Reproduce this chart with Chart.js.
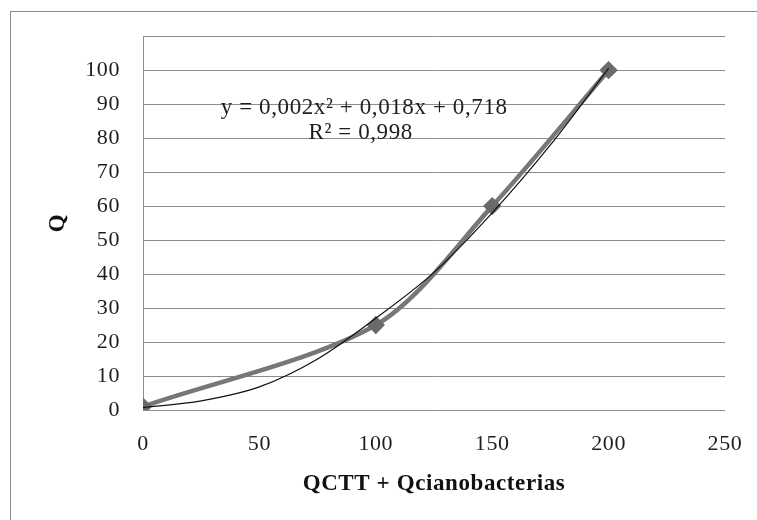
<!DOCTYPE html>
<html>
<head>
<meta charset="utf-8">
<script src="https://cdn.jsdelivr.net/npm/chart.js@4/dist/chart.umd.min.js"></script>
<style>
  html, body { margin: 0; padding: 0; background: #fff; }
  #wrap { width: 757px; height: 520px; }
</style>
</head>
<body>
<div id="wrap"><canvas id="qchart" width="757" height="520"></canvas></div>
<script>
// measured points
const xValues = [0, 100, 150, 200];
const qValues = [1, 25, 60, 100];

// polynomial trend line
const trendX = [0, 25, 50, 75, 100, 125, 150, 175, 200];
const trendY = [0.7, 2.7, 6.8, 15, 27, 40.5, 58, 78, 100.5];

const xTicks = [0, 50, 100, 150, 200, 250];
const yTicks = [0, 10, 20, 30, 40, 50, 60, 70, 80, 90, 100];

const eqLines = ['y = 0,002x\u00B2 + 0,018x + 0,718', 'R\u00B2 = 0,998'];

const serif = '"Liberation Serif", "Times New Roman", serif';

// outer frame and trend equation
const decor = {
  id: 'decor',
  beforeDraw(chart) {
    const ctx = chart.ctx;
    ctx.save();
    ctx.fillStyle = '#fff';
    ctx.fillRect(0, 0, chart.width, chart.height);
    ctx.strokeStyle = '#8c8c8c';
    ctx.lineWidth = 1;
    ctx.strokeRect(10.5, 11.5, 800, 600);
    ctx.restore();
    ctx.letterSpacing = '0.6px';
  },
  afterDatasetsDraw(chart) {
    const ctx = chart.ctx;
    const xs = chart.scales.x, ys = chart.scales.y;
    ctx.save();
    ctx.font = '23px ' + serif;
    ctx.letterSpacing = '0.6px';
    ctx.fillStyle = '#1e1e1e';
    ctx.textAlign = 'center';
    ctx.textBaseline = 'middle';
    ctx.fillText(eqLines[0], xs.getPixelForValue(95), ys.getPixelForValue(88.9));
    ctx.fillText(eqLines[1], xs.getPixelForValue(93.5), ys.getPixelForValue(81.5));
    ctx.restore();
  }
};

new Chart(document.getElementById('qchart').getContext('2d'), {
  type: 'scatter',
  data: {
    datasets: [{
      label: 'Tendencia',
      data: trendX.map((x, i) => ({ x: x, y: trendY[i] })),
      showLine: true,
      borderColor: '#111',
      borderWidth: 1.2,
      pointRadius: 0,
      cubicInterpolationMode: 'monotone',
      fill: false,
      order: 0
    }, {
      label: 'Q',
      data: xValues.map((x, i) => ({ x: x, y: qValues[i] })),
      showLine: true,
      borderColor: '#777',
      borderWidth: 4.5,
      tension: 0.3,
      pointStyle: 'rectRot',
      pointRadius: 6,
      pointBackgroundColor: '#6a6a6a',
      pointBorderColor: '#6a6a6a',
      fill: false,
      order: 1
    }]
  },
  options: {
    responsive: false,
    animation: false,
    layout: { padding: { left: 0, right: 32, top: 34, bottom: 0 } },
    plugins: {
      legend: { display: false },
      tooltip: { enabled: false }
    },
    scales: {
      x: {
        type: 'linear',
        min: 0,
        max: 250,
        afterBuildTicks: (s) => { s.ticks = xTicks.map(v => ({ value: v })); },
        afterFit: (s) => { s.height = 110; s.paddingLeft = 0; s.paddingRight = 0; },
        grid: { display: false, drawTicks: false },
        border: { display: false },
        ticks: {
          padding: 21,
          color: '#1e1e1e',
          font: { family: serif, size: 22 },
          maxRotation: 0
        },
        title: {
          display: true,
          text: 'QCTT + Qcianobacterias',
          color: '#111',
          font: { family: serif, size: 23, weight: 'bold' },
          padding: { top: 0, bottom: 22 }
        }
      },
      y: {
        type: 'linear',
        min: 0,
        max: 110,
        afterBuildTicks: (s) => { s.ticks = yTicks.concat([110]).map(v => ({ value: v })); },
        afterFit: (s) => { s.width = 143; },
        grid: { color: '#8c8c8c', lineWidth: 1, drawTicks: false },
        border: { display: true, color: '#8c8c8c', width: 1 },
        ticks: {
          padding: 23,
          color: '#1e1e1e',
          font: { family: serif, size: 22 },
          callback: (v) => (v > 100 ? '' : v)
        },
        title: {
          display: true,
          text: 'Q',
          color: '#111',
          font: { family: serif, size: 23, weight: 'bold' },
          padding: { top: 44, bottom: 0 }
        }
      }
    }
  },
  plugins: [decor]
});
</script>
</body>
</html>
